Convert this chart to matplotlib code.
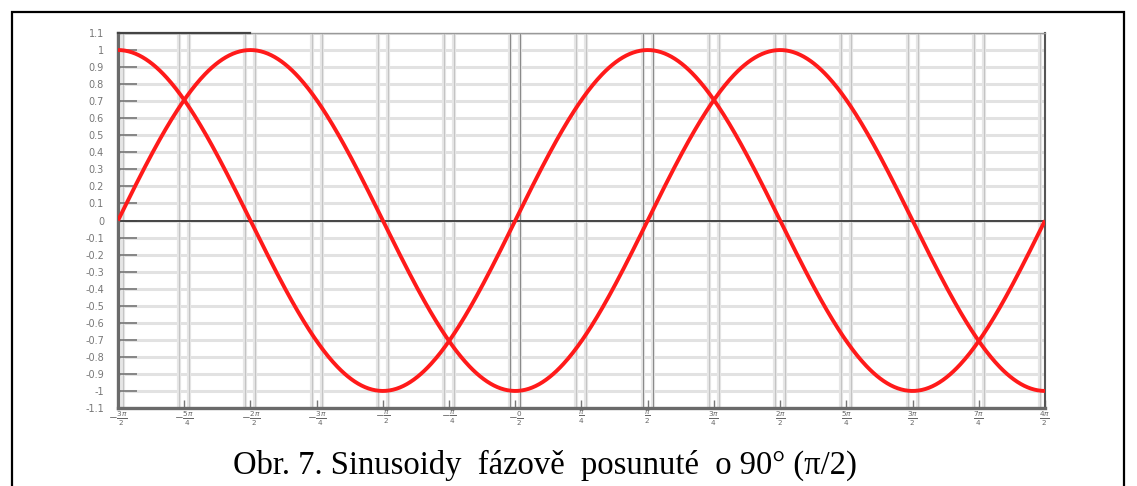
import numpy as np
import matplotlib
matplotlib.use("Agg")
import matplotlib.pyplot as plt
from matplotlib.patches import Rectangle

# ---- data ----
x_start = -1.5 * np.pi          # left end of the plotted range
x_end = 2.0 * np.pi             # right end
amplitude = 1.0
phase_shift_deg = 90            # second sinusoid shifted by 90 deg (pi/2)

x_tick_multiples = [-6, -5, -4, -3, -2, -1, 0, 1, 2, 3, 4, 5, 6, 7, 8]   # multiples of pi/4
x_tick_labels = [r"$-\frac{3\pi}{2}$", r"$-\frac{5\pi}{4}$", r"$-\frac{2\pi}{2}$", r"$-\frac{3\pi}{4}$",
                 r"$-\frac{\pi}{2}$", r"$-\frac{\pi}{4}$", r"$-\frac{0}{2}$", r"$\frac{\pi}{4}$",
                 r"$\frac{\pi}{2}$", r"$\frac{3\pi}{4}$", r"$\frac{2\pi}{2}$", r"$\frac{5\pi}{4}$",
                 r"$\frac{3\pi}{2}$", r"$\frac{7\pi}{4}$", r"$\frac{4\pi}{2}$"]
y_ticks = [1.1, 1.0, 0.9, 0.8, 0.7, 0.6, 0.5, 0.4, 0.3, 0.2, 0.1, 0.0,
           -0.1, -0.2, -0.3, -0.4, -0.5, -0.6, -0.7, -0.8, -0.9, -1.0, -1.1]
y_tick_labels = ["1.1", "1", "0.9", "0.8", "0.7", "0.6", "0.5", "0.4", "0.3", "0.2", "0.1", "0",
                 "-0.1", "-0.2", "-0.3", "-0.4", "-0.5", "-0.6", "-0.7", "-0.8", "-0.9", "-1", "-1.1"]
caption = "Obr. 7. Sinusoidy  fázově  posunuté  o 90° (π/2)"

# ---- figure ----
W, H, DPI = 1137, 486, 100
fig = plt.figure(figsize=(W / DPI, H / DPI), dpi=DPI)
fig.patch.set_facecolor("white")

# outer frame
fig.add_artist(Rectangle((12 / W, -0.01), (1124 - 12) / W, 1 - 12 / H + 0.01,
                         transform=fig.transFigure, fill=False, edgecolor="black", lw=1.6))

ax = fig.add_axes([118 / W, 1 - 408 / H, (1045 - 118) / W, (408 - 33) / H])
ax.set_xlim(x_start, x_end)
ax.set_ylim(-1.1, 1.1)

xt = [k * np.pi / 4 for k in x_tick_multiples]

# horizontal grid
for yv in y_ticks:
    ax.axhline(yv, color="#e2e2e2", lw=2.2, zorder=1)
ax.axhline(0, color="#444444", lw=1.4, zorder=2)

# vertical grid (double lines)
dx = (x_end - x_start) * 5 / 927
for xv in xt:
    dark = xv in (0.0, np.pi / 2)
    c1 = "#8a8a8a" if dark else "#c4c4c4"
    for off in (-dx, dx):
        ax.axvline(xv + off, color="#e6e6e6", lw=3.0, zorder=1)
        ax.axvline(xv + off, color=c1, lw=0.8, zorder=1)

# curves
x = np.linspace(x_start, x_end, 800)
shift = np.deg2rad(phase_shift_deg)
y1 = amplitude * np.sin(x - shift)      # = -cos(x)
y2 = amplitude * np.sin(x)
ax.plot(x, y1, color="#ff1a1a", lw=2.8, zorder=5, solid_capstyle="butt")
ax.plot(x, y2, color="#ff1a1a", lw=2.8, zorder=5, solid_capstyle="butt")

# spines
for s in ["left", "bottom"]:
    ax.spines[s].set_color("#6a6a6a")
    ax.spines[s].set_linewidth(2.4)
ax.spines["right"].set_color("#555555")
ax.spines["right"].set_linewidth(1.5)
ax.spines["top"].set_color("#999999")
ax.spines["top"].set_linewidth(1.0)
ax.plot([x_start, -np.pi], [1.1, 1.1], color="#444444", lw=1.6, clip_on=False, zorder=6)

ax.set_yticks(y_ticks)
ax.set_yticklabels(y_tick_labels, fontsize=7, color="#777777")
ax.tick_params(axis="y", direction="in", length=14, width=1.2, color="#777777", pad=10)
ax.set_xticks(xt)
ax.set_xticklabels(x_tick_labels, fontsize=7.5, color="#666666")
ax.tick_params(axis="x", direction="in", length=6, width=1.0, color="#777777", pad=1)

fig.text(545 / W, 1 - 465 / H, caption, ha="center", va="center",
         fontsize=23.5, family="Liberation Serif", color="black")

fig.savefig("out.png", dpi=DPI)
